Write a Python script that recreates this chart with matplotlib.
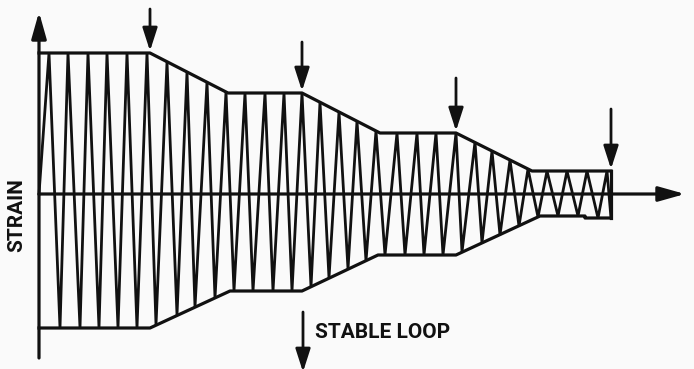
import matplotlib.pyplot as plt

# cycle peaks (time, strain) of the decreasing-amplitude strain history
peak_t = [10, 29, 49, 68, 88, 108, 128, 148, 168, 187, 206, 226, 245, 263, 281,
          300, 318, 337, 358, 378, 397, 417, 436, 453, 471, 489, 508, 528, 548, 568]
peak_strain = [141, 141, 141, 141, 141, 141, 132, 122, 112, 102, 101, 101, 101, 101, 92,
               82, 73, 63, 61, 61, 61, 61, 52, 43, 34, 25, 23, 23, 23, 23]
trough_t = [21, 41, 60, 79, 98, 117, 138, 156, 176, 195, 214, 234, 253, 272, 290,
            309, 327, 346, 366, 385, 404, 423, 443, 461, 480, 499, 519, 539, 559]
trough_strain = [-134, -134, -134, -134, -134, -131, -121, -113, -104, -97, -97, -97, -97, -93, -84,
                 -75, -67, -61, -61, -61, -61, -58, -49, -41, -32, -23, -22, -22, -24]

# envelopes of the blocks
top_env_t = [0, 111, 189, 263, 341, 417, 493, 572]
top_env = [141, 141, 101, 101, 61, 61, 23, 23]
bot_env_t = [0, 111, 191, 263, 339, 417, 501, 546, 546, 572]
bot_env = [-134, -134, -97, -97, -61, -61, -22, -22, -24, -24]

# where the step-down arrows point
step_t = [111, 263, 417, 572]
step_strain = [141, 101, 61, 23]
step_len = [42, 49, 53, 60]

ink = "#111111"

fig = plt.figure(figsize=(6.94, 3.69), dpi=100, facecolor="#fafafa")
ax = fig.add_axes([0, 0, 1, 1])
ax.set_facecolor("#fafafa")
ax.set_xlim(-39, 655)
ax.set_ylim(-175, 194)
ax.axis("off")

# zigzag strain history
t = [0]
s = [0]
for i in range(len(peak_t)):
    t.append(peak_t[i])
    s.append(peak_strain[i])
    if i < len(trough_t):
        t.append(trough_t[i])
        s.append(trough_strain[i])
t.append(bot_env_t[-1])
s.append(bot_env[-1])
ax.plot(t, s, color=ink, lw=2.0, solid_joinstyle="miter")

# envelopes and end of the last block
ax.plot(top_env_t, top_env, color=ink, lw=2.3)
ax.plot(bot_env_t, bot_env, color=ink, lw=2.3)
ax.plot([top_env_t[-1], top_env_t[-1]], [top_env[-1], bot_env[-1]], color=ink, lw=2.3)

# axes with arrows
axis_arrow = dict(arrowstyle="-|>,head_length=1.6,head_width=0.45", color=ink, lw=2.3,
                  mutation_scale=10, shrinkA=0, shrinkB=0)
ax.annotate("", xy=(0, 182), xytext=(0, -164), arrowprops=axis_arrow)
ax.annotate("", xy=(646, 0), xytext=(0, 0), arrowprops=axis_arrow)

# step-down markers
step_arrow = dict(arrowstyle="-|>,head_length=1.4,head_width=0.45", color=ink, lw=2.0,
                  mutation_scale=10, shrinkA=0, shrinkB=0)
for i in range(len(step_t)):
    ax.annotate("", xy=(step_t[i], step_strain[i] + 2),
                xytext=(step_t[i], step_strain[i] + 2 + step_len[i]), arrowprops=step_arrow)

ax.annotate("", xy=(264, -178), xytext=(264, -118), arrowprops=step_arrow,
            annotation_clip=False)
ax.text(276, -139, "STABLE LOOP", ha="left", va="center", fontsize=15,
        fontweight="bold", family=["Roboto", "DejaVu Sans"], color=ink)
ax.text(-22, -21, "STRAIN", ha="center", va="center", rotation=90, fontsize=15,
        fontweight="bold", family=["Roboto", "DejaVu Sans"], color=ink)

fig.savefig("out.png", dpi=100, facecolor=fig.get_facecolor())
